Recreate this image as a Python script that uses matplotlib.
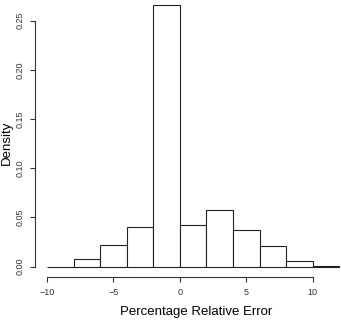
import matplotlib
matplotlib.use("Agg")
import matplotlib.pyplot as plt
import numpy as np

# histogram of percentage relative error (R style hist, freq=FALSE)
bin_edges = [-10, -8, -6, -4, -2, 0, 2, 4, 6, 8, 10, 12]
density = [0.0, 0.0075, 0.0224, 0.0403, 0.266, 0.042, 0.0572, 0.0373, 0.021, 0.0058, 0.0005]
x_ticks = [-10, -5, 0, 5, 10]
y_ticks = [0.00, 0.05, 0.10, 0.15, 0.20, 0.25]

plt.rcParams['font.family'] = ['Liberation Sans', 'DejaVu Sans']

fig = plt.figure(figsize=(3.41, 3.21), dpi=100)
ax = fig.add_axes([0.1035, 0.137, 0.926, 0.880])

edges = np.array(bin_edges)
ax.bar(edges[:-1], density, width=np.diff(edges), align='edge',
       facecolor='white', edgecolor='#222222', linewidth=0.8)

ax.set_xlim(-10.88, 12.88)
ax.set_ylim(-0.0106, 0.2766)

for s in ['top', 'right']:
    ax.spines[s].set_visible(False)
ax.spines['bottom'].set_bounds(-10, 10)
ax.spines['left'].set_bounds(0, 0.25)
for s in ['bottom', 'left']:
    ax.spines[s].set_linewidth(0.8)
    ax.spines[s].set_color('#333333')

ax.set_xticks(x_ticks)
ax.set_xticklabels(['\u221210', '\u22125', '0', '5', '10'])
ax.set_yticks(y_ticks)
ax.set_yticklabels(['%.2f' % v for v in y_ticks], rotation=90, va='center')
ax.tick_params(axis='both', length=3.6, width=0.8, color='#333333', labelsize=6.5, labelcolor='#333333', pad=4)

fig.text(0.575, 0.028, 'Percentage Relative Error', fontsize=9.5, ha='center', va='center')
fig.text(0.019, 0.555, 'Density', rotation=90, fontsize=9.5, ha='center', va='center')

fig.savefig('out.png', dpi=100)
